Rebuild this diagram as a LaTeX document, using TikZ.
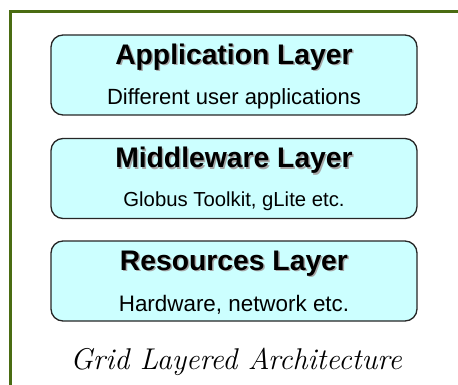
\documentclass[tikz,border=0pt]{standalone}
\usepackage{fontspec}
\setsansfont{Liberation Sans}
\usepackage{xcolor}
\usetikzlibrary{positioning}

\definecolor{framegreen}{RGB}{74,108,18}
\definecolor{layerfill}{RGB}{204,255,255}

% bold heading with a soft grey drop shadow
\newcommand{\shadowed}[1]{%
  \makebox[0pt][l]{\hspace{1.5pt}\raisebox{-1.5pt}{\color{black!35}#1}}#1}

\begin{document}
\begin{tikzpicture}[x=1pt, y=-1pt,
  layer/.style={draw=black!85, line width=1.3pt, fill=layerfill, rounded corners=12pt,
    minimum width=366pt, minimum height=80pt, inner sep=0pt},
  ttl/.style={font=\sffamily\bfseries\fontsize{28.3}{30}\selectfont, inner sep=0pt, anchor=base},
  sub/.style={inner sep=0pt, anchor=base},
  frm/.style={draw=framegreen, line width=3pt}
]
\useasboundingbox (0,0) rectangle (458,385);
% outer frame runs off the right and bottom edges
\coordinate (fbl) at (10,400);
\coordinate (ftl) at (10,12);
\coordinate (ftr) at (470,12);
\draw[frm] (fbl) -- (ftl) -- (ftr);
\foreach \n/\y/\fs/\up/\head/\txt in {app/75/22/11/Application Layer/Different user applications,
  mid/178.5/20.3/13/Middleware Layer/{Globus Toolkit, gLite etc.},
  res/281/22.4/10/Resources Layer/{Hardware, network etc.}} {
  \node[layer] (\n) at (234,\y) {};
  \node[ttl] (\n-t) at ([yshift=-30pt]\n.north) {\shadowed{\head}};
  \node[sub, font=\sffamily\fontsize{\fs}{24}\selectfont] (\n-s) at ([yshift=\up pt]\n.south) {\txt};
}
\node[font=\itshape\fontsize{30}{32}\selectfont, anchor=base] (cap) at (236,369) {Grid Layered Architecture};
\end{tikzpicture}
\end{document}
